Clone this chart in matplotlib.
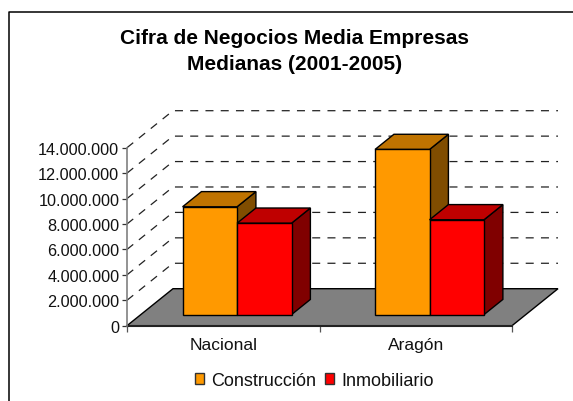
import matplotlib
matplotlib.use("Agg")
import matplotlib.pyplot as plt
from matplotlib.lines import Line2D
from matplotlib.patches import Patch, Polygon

plt.rcParams['font.family'] = ['Liberation Sans', 'DejaVu Sans']

# --- Datos ---
categorias = ['Nacional', 'Aragón']
series = ['Construcción', 'Inmobiliario']
construccion = [8480000, 12990000]
inmobiliario = [7190000, 7460000]
ticks_y = [0, 2000000, 4000000, 6000000, 8000000, 10000000, 12000000, 14000000]

# --- Estilo 3D ---
W, H = 573, 402
ymax = 14000000
dx_fondo = 46 / 385 * 2      # desplazamiento del fondo en unidades de x
dy_fondo = 37 / 178 * ymax   # desplazamiento del fondo en unidades de y
ancho = 0.283
prof_ini, prof_fin = 0.30, 0.71
colores = {'Construcción': ('#FF9900', '#BF7300', '#804D00'),
           'Inmobiliario': ('#FF0000', '#BF0000', '#800000')}


def proy(x, y, d):
    return (x + d * dx_fondo, y + d * dy_fondo)


def barra(ax, x0, x1, valor, cols):
    frente, techo, lado = cols
    ax.add_patch(Polygon([proy(x1, 0, prof_ini), proy(x1, 0, prof_fin), proy(x1, valor, prof_fin), proy(x1, valor, prof_ini)],
                         fc=lado, ec='black', lw=1, clip_on=False, zorder=3))
    ax.add_patch(Polygon([proy(x0, valor, prof_ini), proy(x1, valor, prof_ini), proy(x1, valor, prof_fin), proy(x0, valor, prof_fin)],
                         fc=techo, ec='black', lw=1, clip_on=False, zorder=3))
    ax.add_patch(Polygon([proy(x0, 0, prof_ini), proy(x1, 0, prof_ini), proy(x1, valor, prof_ini), proy(x0, valor, prof_ini)],
                         fc=frente, ec='black', lw=1, clip_on=False, zorder=3))


fig = plt.figure(figsize=(W / 100, H / 100), dpi=100, facecolor='white')
ax = fig.add_axes([127 / W, (H - 326.7) / H, 385 / W, 178 / H])
ax.set_xlim(0, 2)
ax.set_ylim(0, ymax)
ax.patch.set_visible(False)

# Marco del gráfico (sólo se ven los lados izquierdo y superior)
fig.add_artist(Line2D([8.5 / W, 8.5 / W, 1], [0, (H - 12.5) / H, (H - 12.5) / H], color='black', lw=1.1))

# Suelo gris
ax.add_patch(Polygon([proy(0, 0, 0), proy(2, 0, 0), proy(2, 0, 1), proy(0, 0, 1)],
                     fc='#808080', ec='black', lw=1, clip_on=False, zorder=1))

# Rejilla punteada en pared lateral y de fondo
for v in ticks_y[1:]:
    xs = [0, dx_fondo, 2 + dx_fondo]
    ys = [v, v + dy_fondo, v + dy_fondo]
    ax.plot(xs, ys, color='#222222', lw=0.9, dashes=(6.4, 5.8), clip_on=False, zorder=0.5)

# Barras
for i in range(len(categorias)):
    x0 = i + 0.5 - ancho
    barra(ax, x0, x0 + ancho, construccion[i], colores['Construcción'])
    barra(ax, x0 + ancho, x0 + 2 * ancho, inmobiliario[i], colores['Inmobiliario'])

# Ejes
for lado in ['top', 'right']:
    ax.spines[lado].set_visible(False)
ax.spines['left'].set_color('#808080')
ax.spines['left'].set_linewidth(1.2)
ax.spines['bottom'].set_color('#222222')
ax.spines['bottom'].set_linewidth(1.5)
ax.spines['bottom'].set_zorder(2)

ax.set_yticks(ticks_y)
ax.set_yticklabels([f"{v:,}".replace(",", ".") for v in ticks_y], fontsize=11.7, color='#111111')
ax.tick_params(axis='y', length=3.5, width=0.9, pad=2, color='#333333')
ax.set_xticks([0, 1, 2])
ax.set_xticklabels([])
ax.tick_params(axis='x', which='major', length=4, width=0.9, color='#555555')
ax.set_xticks([0.5, 1.5], minor=True)
ax.set_xticklabels(categorias, minor=True, fontsize=12.5, color='#111111')
ax.tick_params(axis='x', which='minor', length=0, pad=8)

# Título
fig.text(295 / W, (H - 51.5) / H, 'Cifra de Negocios Media Empresas\nMedianas (2001-2005)',
         ha='center', va='center', fontsize=15, fontweight='bold', color='black', linespacing=1.44)

# Leyenda
handles = [Patch(fc=colores[s][0], ec='#333333', lw=1) for s in series]
fig.legend(handles, series, loc='center', bbox_to_anchor=(314.5 / W, (H - 381.5) / H), ncol=2, frameon=False,
           fontsize=13, handlelength=0.5, handleheight=0.5, handletextpad=0.4, columnspacing=0.5,
           labelcolor='#111111', borderpad=0, borderaxespad=0)

fig.savefig('out.png', dpi=100)
